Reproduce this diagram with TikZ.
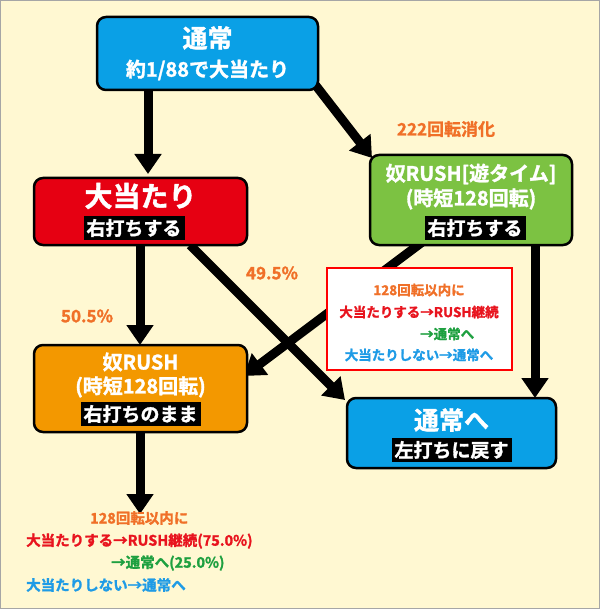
\documentclass[tikz,border=0pt]{standalone}
\usepackage{fontspec}
\setmainfont{Noto Sans CJK JP}[BoldFont={* Bold},BoldFeatures={FakeBold=1.5}]
\usetikzlibrary{arrows.meta}
\definecolor{bg}{HTML}{FFF8D2}
\definecolor{cblue}{HTML}{0AA0E6}
\definecolor{cred}{HTML}{E60012}
\definecolor{cgreen}{HTML}{7CC242}
\definecolor{corange}{HTML}{F39800}
\definecolor{tor}{HTML}{F07028}
\definecolor{tred}{HTML}{E8141E}
\definecolor{tgreen}{HTML}{1EA040}
\definecolor{tblue}{HTML}{1E9BE6}
\begin{document}
\begin{tikzpicture}[x=1pt,y=-1pt,font=\bfseries,
 box/.style={draw=black,line width=2.5pt,rounded corners=9pt},
 arr/.style={line width=9pt,-{Triangle[width=26pt,length=20pt]}},
 lab/.style={fill=black,text=white,font=\bfseries\fontsize{19}{21}\selectfont,inner sep=3pt,minimum height=24pt},
 ttl/.style={text=white,font=\bfseries\fontsize{25}{27}\selectfont,inner sep=0pt},
 sub/.style={text=white,font=\bfseries\fontsize{20}{23}\selectfont,inner sep=0pt,align=center},
 pct/.style={text=tor,font=\bfseries\fontsize{17}{19}\selectfont,inner sep=0pt},
 sm/.style={font=\bfseries\fontsize{13.5}{15}\selectfont,inner sep=0pt,anchor=west},
 bt/.style={sm,font=\bfseries\fontsize{14.5}{16}\selectfont}]
\fill[bg,draw=gray!70,line width=1pt] (0.5,0.5) rectangle (599.5,608.5);
\useasboundingbox (0,0) rectangle (600,609);
% anchors
\coordinate (a1s) at (148,90); \coordinate (a1e) at (148,174);
\coordinate (a2s) at (310,78); \coordinate (a2e) at (372,158);
\coordinate (a3s) at (140,245); \coordinate (a3e) at (140,345);
\coordinate (a4s) at (190,245); \coordinate (a4e) at (345,400);
\coordinate (a5s) at (425,240); \coordinate (a5e) at (244,376);
\coordinate (a6s) at (535,245); \coordinate (a6e) at (535,398);
\coordinate (a7s) at (140,432); \coordinate (a7e) at (140,514);
\draw[arr] (a1s) -- (a1e);
\draw[arr] (a2s) -- (a2e);
\draw[arr] (a3s) -- (a3e);
\draw[arr] (a4s) -- (a4e);
\draw[arr] (a5s) -- (a5e);
\draw[arr] (a6s) -- (a6e);
\draw[arr] (a7s) -- (a7e);
% boxes
\draw[box,fill=cblue] (97,17) rectangle (318,90);
\node[ttl] (t1) at (207.5,38) {通常};
\node[sub] (t1b) at (207.5,70) {約1/88で大当たり};
\draw[box,fill=cred] (34,178) rectangle (247,245);
\node[ttl,font=\bfseries\fontsize{28}{30}\selectfont] (t2) at (140.5,196) {大当たり};
\node[lab] (l2) at (134,228) {右打ちする};
\draw[box,fill=cgreen] (370,155) rectangle (572,245);
\node[sub] (t3) at (471,174) {奴RUSH[遊タイム]};
\node[sub] (t3b) at (471,199) {(時短128回転)};
\node[lab] (l3) at (475,228) {右打ちする};
\draw[box,fill=corange] (34,345) rectangle (247,432);
\node[sub] (t4) at (140.5,362) {奴RUSH};
\node[sub] (t4b) at (140.5,387) {(時短128回転)};
\node[lab] (l4) at (140.5,414) {右打ちのまま};
\draw[box,fill=cblue] (347,398) rectangle (556,468);
\node[ttl] (t5) at (451.5,420) {通常へ};
\node[lab] (l5) at (451.5,450) {左打ちに戻す};
% red note
\draw[red,line width=2.5pt,fill=white] (327,268) rectangle (512,370);
\node[sm,anchor=center,text=tor] (n1) at (419,290) {128回転以内に};
\node[sm,anchor=center,text=tred] (n2) at (419,312) {大当たりする→RUSH継続};
\node[sm,text=tgreen] (n3) at (420,334) {→通常へ};
\node[sm,anchor=center,text=tblue] (n4) at (419,355) {大当たりしない→通常へ};
% percentages
\node[pct] (p1) at (446,129) {222回転消化};
\node[pct] (p2) at (272,273) {49.5\%};
\node[pct] (p3) at (87,316) {50.5\%};
% bottom text
\node[bt,text=tor] (b1) at (90,518) {128回転以内に};
\node[bt,text=tred] (b2) at (26,541) {大当たりする→RUSH継続(75.0\%)};
\node[bt,text=tgreen] (b3) at (111,563) {→通常へ(25.0\%)};
\node[bt,text=tblue] (b4) at (26,585) {大当たりしない→通常へ};
\end{tikzpicture}
\end{document}
